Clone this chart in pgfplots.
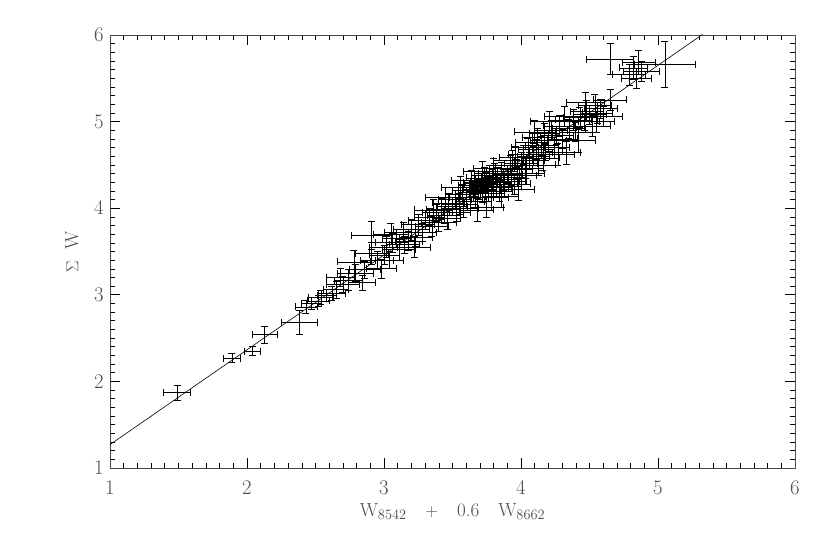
\documentclass[border=0pt]{standalone}
\usepackage{pgfplots}
\pgfplotsset{compat=1.18}
\definecolor{txt}{gray}{0.3}

\pgfplotstableread{
x    y    ex   ey
1.49 1.87 0.10 0.09
1.89 2.27 0.06 0.05
2.04 2.35 0.06 0.05
2.13 2.54 0.09 0.10
2.38 2.68 0.13 0.14
2.43 2.86 0.08 0.08
2.47 2.90 0.07 0.07
2.52 2.93 0.08 0.06
2.54 2.97 0.09 0.08
2.58 2.99 0.07 0.07
2.62 3.02 0.10 0.08
2.65 3.06 0.09 0.10
2.70 3.12 0.12 0.09
2.68 3.20 0.10 0.10
2.74 3.17 0.10 0.12
2.79 3.25 0.13 0.10
2.78 3.38 0.12 0.13
2.86 3.29 0.11 0.10
2.84 3.14 0.10 0.09
2.91 3.69 0.15 0.16
2.91 3.48 0.12 0.13
2.95 3.40 0.12 0.10
3.00 3.46 0.11 0.11
3.02 3.55 0.13 0.12
3.06 3.60 0.12 0.11
3.04 3.40 0.10 0.10
3.09 3.65 0.10 0.10
3.11 3.52 0.12 0.12
3.15 3.58 0.11 0.10
3.20 3.75 0.13 0.12
3.18 3.62 0.10 0.11
3.23 3.66 0.12 0.10
3.25 3.81 0.12 0.12
3.30 3.86 0.12 0.11
3.28 3.72 0.10 0.10
3.33 3.90 0.11 0.10
3.35 3.79 0.12 0.12
3.38 3.95 0.10 0.10
3.40 3.84 0.13 0.11
3.42 3.99 0.11 0.12
3.44 3.92 0.12 0.10
3.47 4.06 0.12 0.11
3.46 3.88 0.10 0.12
3.50 4.02 0.11 0.10
3.52 4.10 0.12 0.11
3.53 3.95 0.10 0.10
3.55 4.05 0.13 0.12
3.57 4.16 0.12 0.11
3.58 4.00 0.11 0.10
3.60 4.12 0.12 0.12
3.62 4.21 0.12 0.11
3.63 4.08 0.10 0.11
3.65 4.18 0.11 0.10
3.66 4.26 0.12 0.12
3.67 4.12 0.13 0.11
3.69 4.30 0.11 0.10
3.70 4.22 0.12 0.12
3.71 4.29 0.12 0.11
3.72 4.17 0.10 0.10
3.73 4.35 0.13 0.12
3.74 4.25 0.11 0.11
3.75 4.31 0.12 0.10
3.75 4.01 0.12 0.11
3.76 4.20 0.12 0.12
3.77 4.38 0.11 0.11
3.78 4.27 0.10 0.10
3.79 4.33 0.12 0.12
3.80 4.24 0.13 0.11
3.81 4.40 0.12 0.12
3.82 4.30 0.11 0.10
3.83 4.36 0.12 0.11
3.84 4.20 0.10 0.12
3.85 4.28 0.12 0.11
3.86 4.43 0.11 0.10
3.87 4.33 0.13 0.12
3.88 4.25 0.12 0.11
3.90 4.39 0.11 0.10
3.91 4.31 0.12 0.12
3.92 4.50 0.12 0.11
3.93 4.36 0.10 0.10
3.95 4.28 0.12 0.12
3.96 4.59 0.12 0.12
3.97 4.45 0.11 0.11
3.99 4.38 0.12 0.10
4.00 4.52 0.12 0.12
4.02 4.62 0.11 0.11
4.03 4.46 0.13 0.12
4.05 4.70 0.12 0.11
4.06 4.55 0.11 0.10
4.08 4.76 0.12 0.12
4.09 4.60 0.12 0.11
4.11 4.68 0.13 0.12
4.12 4.82 0.11 0.10
4.13 4.50 0.12 0.12
4.15 4.72 0.12 0.11
4.17 4.86 0.11 0.12
4.18 4.65 0.12 0.10
4.20 4.78 0.13 0.12
4.22 4.90 0.12 0.11
4.24 4.70 0.11 0.12
4.26 4.84 0.12 0.10
4.28 4.95 0.12 0.12
4.30 4.80 0.11 0.11
4.33 4.64 0.10 0.13
4.35 4.92 0.12 0.11
4.38 5.02 0.13 0.12
4.40 4.88 0.12 0.11
4.43 5.05 0.12 0.12
4.46 5.00 0.11 0.10
4.48 5.12 0.12 0.12
4.50 5.08 0.12 0.11
4.52 4.95 0.13 0.12
4.54 5.19 0.12 0.12
4.56 5.10 0.11 0.12
4.58 5.15 0.12 0.11
4.60 5.06 0.14 0.12
4.65 5.25 0.12 0.12
4.65 5.72 0.17 0.18
4.79 5.54 0.12 0.12
4.82 5.62 0.10 0.13
4.86 5.68 0.12 0.14
4.88 5.58 0.13 0.12
4.84 5.50 0.11 0.12
5.05 5.66 0.22 0.27
3.36 3.98 0.14 0.12
3.45 4.12 0.15 0.12
3.56 4.24 0.14 0.13
3.64 4.32 0.15 0.12
3.68 3.98 0.12 0.13
3.72 4.42 0.14 0.12
3.78 4.12 0.13 0.14
3.80 4.46 0.15 0.12
3.86 4.14 0.12 0.13
3.94 4.55 0.14 0.12
3.98 4.22 0.12 0.13
4.04 4.40 0.13 0.12
4.10 4.88 0.15 0.13
4.16 4.58 0.12 0.14
4.21 5.00 0.14 0.12
4.27 4.62 0.12 0.13
4.32 5.06 0.15 0.12
4.42 4.78 0.12 0.13
4.47 5.22 0.14 0.12
4.55 5.00 0.13 0.12
3.14 3.72 0.14 0.12
3.22 3.55 0.12 0.12
3.05 3.70 0.13 0.12
2.98 3.30 0.11 0.11
}\eqw

\begin{document}
\begin{tikzpicture}
\begin{axis}[
  scale only axis,
  width=685pt, height=433pt,
  xmin=1, xmax=6, ymin=1, ymax=6,
  xtick={1,2,3,4,5,6}, ytick={1,2,3,4,5,6},
  minor x tick num=9, minor y tick num=9,
  tick align=inside,
  major tick length=10pt, minor tick length=5pt,
  axis line style={draw=black!70, line width=0.8pt},
  every tick/.style={black, line width=0.6pt},
  tick label style={font=\fontsize{20}{22}\selectfont, text=txt},
  xticklabel style={anchor=center, yshift=-20pt},
  yticklabel style={anchor=center, xshift=-11pt},
  label style={font=\fontsize{19}{21}\selectfont, text=txt},
  xlabel={W$_{8542}$\quad$+$\quad 0.6\quad W$_{8662}$},
  ylabel={$\Sigma$\ \ W},
  xlabel style={at={(axis description cs:0.5,-0.10)}, anchor=center},
  ylabel style={at={(axis description cs:-0.0555,0.5)}, anchor=center},
]
% the "-" mark lies on top of the x error bar, so only the bars show
\addplot[black, only marks, mark=-, mark size=3.5pt, mark options={line width=0.7pt},
  error bars/.cd, x dir=both, x explicit, y dir=both, y explicit,
  error bar style={black, line width=0.7pt},
  error mark options={rotate=90, black, mark size=3.5pt, line width=0.7pt}]
  table[x=x, y=y, x error=ex, y error=ey] {\eqw};
\addplot[black, line width=0.6pt] coordinates {(1,1.27) (5.325,6.006)};
\end{axis}
\path[use as bounding box] (-110pt,-69pt) rectangle (720pt,468pt);
\end{tikzpicture}
\end{document}
